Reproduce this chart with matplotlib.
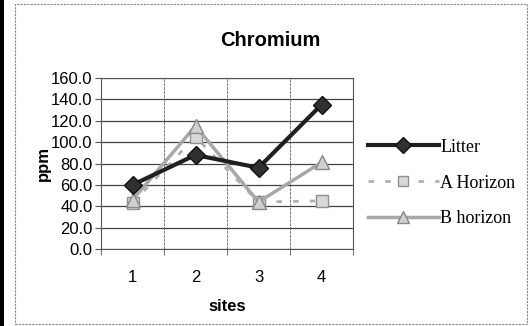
import numpy as np
import matplotlib
matplotlib.use('Agg')
import matplotlib.pyplot as plt
from matplotlib.ticker import FormatStrFormatter, FixedLocator
from matplotlib.lines import Line2D
from matplotlib.patches import Rectangle
from matplotlib.font_manager import FontProperties

# data
sites = [1, 2, 3, 4]
litter = [60, 88, 76, 135]
a_horizon = [43, 105, 44, 45]
b_horizon = [46, 115, 44, 81]

plt.rcParams['font.family'] = ['Liberation Sans', 'DejaVu Sans']

fig = plt.figure(figsize=(5.3, 3.26), dpi=100)
ax = fig.add_axes([101 / 530, 1 - 249 / 326, 252 / 530, 171 / 326])

ax.plot(sites, a_horizon, color='#b0b0b0', lw=2, ls=(0, (2, 4)), marker='s',
        ms=8, mfc='#d8d8d8', mec='#909090', mew=1, label='A Horizon', zorder=3)
ax.plot(sites, b_horizon, color='#a8a8a8', lw=2.5, marker='^', ms=10,
        mfc='#d0d0d0', mec='#888888', mew=1, label='B horizon', zorder=4)
ax.plot(sites, litter, color='#202020', lw=3, marker='D', ms=9,
        mfc='#303030', mec='#101010', label='Litter', zorder=5)

ax.set_xlim(0.5, 4.5)
ax.set_ylim(0, 160)
ax.set_yticks(np.arange(0, 161, 20))
ax.yaxis.set_major_formatter(FormatStrFormatter('%.1f'))
ax.set_xticks(sites)
ax.xaxis.set_minor_locator(FixedLocator([0.5, 1.5, 2.5, 3.5, 4.5]))
ax.tick_params(axis='x', which='major', length=0, pad=15, labelsize=12)
ax.tick_params(axis='x', which='minor', length=4, color='#555555')
ax.tick_params(axis='y', length=4, color='#555555', labelsize=12, pad=2)
ax.grid(True, axis='y', color='#444444', lw=0.9)
ax.grid(True, axis='x', which='minor', color='#777777', lw=0.7, ls=(0, (3, 1)))
for s in ax.spines.values():
    s.set_color('#555555')

ax.set_xlabel('sites', fontsize=12, fontweight='bold', labelpad=10)
ax.set_ylabel('ppm', fontsize=12, fontweight='bold', labelpad=0)
fig.text(270 / 530, 1 - 40 / 326, 'Chromium', ha='center', va='center',
         fontsize=14.5, fontweight='bold')

handles = [
    Line2D([], [], color='#202020', lw=3, marker='D', ms=8, mfc='#303030', mec='#101010'),
    Line2D([], [], color='#b0b0b0', lw=2, ls=(0, (2, 4)), marker='s', ms=7, mfc='#d8d8d8', mec='#909090'),
    Line2D([], [], color='#a8a8a8', lw=2.5, marker='^', ms=9, mfc='#d0d0d0', mec='#888888'),
]
fig.legend(handles, ['Litter', 'A Horizon', 'B horizon'], loc='center left',
           bbox_to_anchor=(352 / 530, 1 - 183 / 326), frameon=False,
           prop=FontProperties(family='Liberation Serif', size=13), handlelength=3.9,
           handletextpad=0.1, labelspacing=1.05)

# page frame and left edge from the scan
fig.patches.append(Rectangle((15 / 530, 0.005), 512 / 530, 1 - 6 / 326, transform=fig.transFigure,
                             fill=False, ec='#888888', lw=0.8, ls=(0, (2, 1))))
fig.patches.append(Rectangle((0, 0), 4 / 530, 1, transform=fig.transFigure,
                             fc='black', ec='none'))

fig.savefig('out.png', dpi=100)
